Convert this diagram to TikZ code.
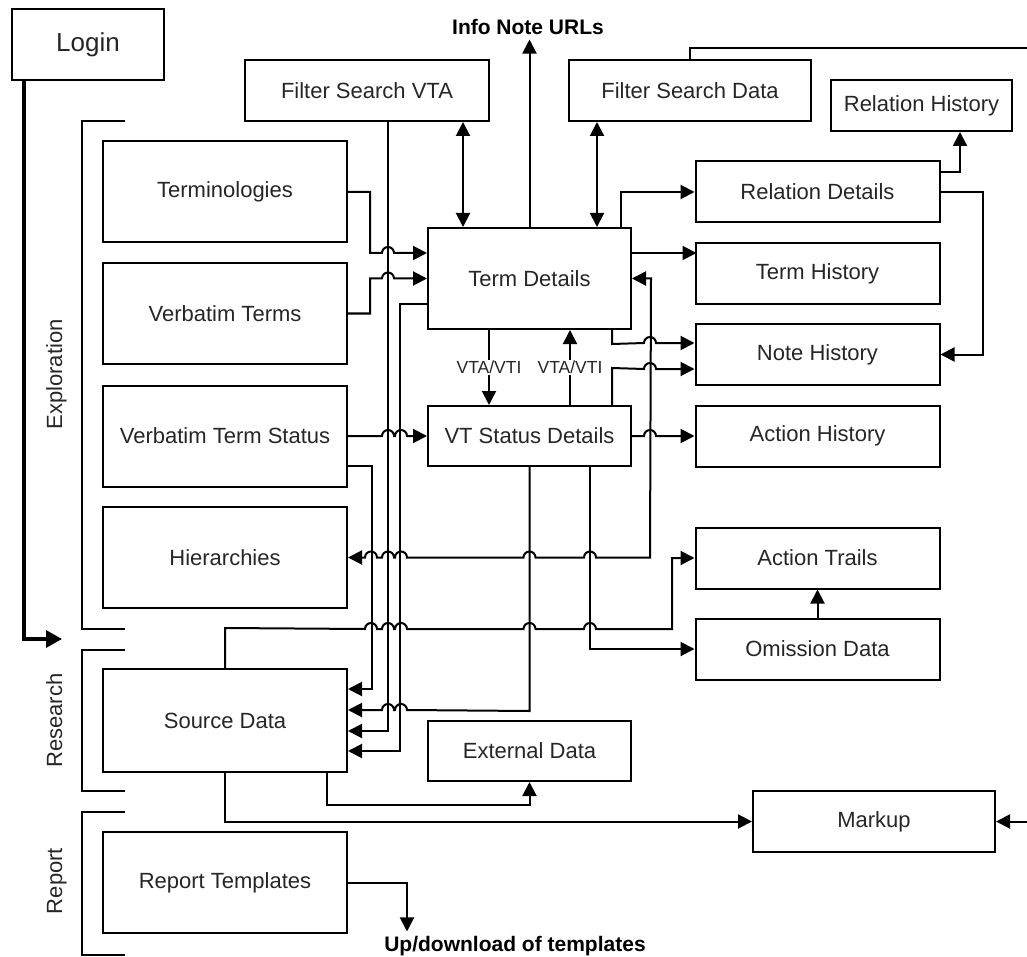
\documentclass[tikz,border=0pt]{standalone}
\usepackage{fontspec}
\setmainfont{Liberation Sans}
\usetikzlibrary{arrows.meta}

\newcommand{\hopr}[2]{-- ({#1-6},#2) arc[start angle=180,end angle=0,radius=6pt]}
\newcommand{\hopl}[2]{-- ({#1+6},#2) arc[start angle=0,end angle=180,radius=6pt]}

\begin{document}
\begin{tikzpicture}[x=1pt,y=-1pt,line width=2pt,>={Triangle[length=14pt,width=14pt]},
  box/.style={draw,text=black!85,inner sep=0pt,minimum width=244pt,minimum height=101pt,font=\fontsize{22}{26}\selectfont},
  rbox/.style={box,minimum height=61pt},
  lbl/.style={fill=white,text=black!85,inner sep=1.5pt,font=\fontsize{17.5}{20}\selectfont},
  note/.style={anchor=base,font=\fontsize{21}{24}\selectfont\bfseries},
  sec/.style={rotate=90,anchor=base,text=black!85,font=\fontsize{22}{26}\selectfont}]

\clip (0,0) rectangle (1027,957);

\node[box,minimum width=152pt,minimum height=71pt,font=\fontsize{26}{30}\selectfont] (login) at (88,44.5) {Login};
\node[rbox] (fsvta) at (367,90.5) {Filter Search VTA};
\node[rbox,minimum width=242pt] (fsdata) at (690,90.5) {Filter Search Data};
\node[box,minimum width=181pt,minimum height=51pt] (relhist) at (921.5,105.5) {Relation History};
\node[note] (info) at (528,35) {Info Note URLs};

\node[box] (termin) at (225,192) {Terminologies};
\node[box] (verbterms) at (225,313.5) {Verbatim Terms};
\node[box] (vtstatus) at (225,436) {Verbatim Term Status};
\node[box] (hier) at (225,557.5) {Hierarchies};
\node[box,minimum height=103pt] (source) at (225,720.5) {Source Data};
\node[box] (report) at (225,882.5) {Report Templates};

\node[box,minimum width=203pt] (termdet) at (529.5,278.5) {Term Details};
\node[rbox,minimum width=203pt,minimum height=60pt] (vtsdet) at (529.5,436) {VT Status Details};
\node[rbox,minimum width=203pt,minimum height=60pt] (extdata) at (529.5,751) {External Data};

\node[rbox] (reldet) at (817.5,192) {Relation Details};
\node[rbox] (termhist) at (817.5,273.5) {Term History};
\node[rbox] (notehist) at (817.5,354.5) {Note History};
\node[rbox] (actionhist) at (817.5,436) {Action History};
\node[rbox] (actiontr) at (817.5,558) {Action Trails};
\node[rbox] (omission) at (817.5,649) {Omission Data};
\node[rbox,minimum width=242pt] (markup) at (874,821.5) {Markup};
\node[note] (updown) at (515,951) {Up/download of templates};

\foreach \t/\b in {121/629,650/791,812/955}
  \draw (125,\t) -| (82,\b) -- (125,\b);
\node[sec] (explo) at (62,374.5) {Exploration};
\node[sec] (resea) at (62,720.5) {Research};
\node[sec] (repo) at (62,881) {Report};

\coordinate (secgap) at (62,639);
\coordinate (vtalink) at (463,0);
\coordinate (datalink) at (597,0);
\coordinate (vtadown) at (489,0);
\coordinate (vtaup) at (570,0);

\draw[-{Triangle[length=16pt,width=17pt]},line width=3.2pt] ([xshift=13pt]login.south west) |- (secgap);

\draw[->] (termdet.north) -- (termdet.north |- info.south);
\draw[<->] (vtalink |- fsvta.south) -- (vtalink |- termdet.north);
\draw[<->] (datalink |- fsdata.south) -- (datalink |- termdet.north);
\draw[->] (fsdata.north) -- ++(0,-11) -- ++(350,0) |- (markup.east);

\draw[->] ([yshift=20pt]reldet.east) -| ([xshift=38.5pt]relhist.south);
\draw[->] (reldet.east) -- ++(42,0) |- (notehist.east);
\draw[->] ([xshift=-11pt]termdet.north east) |- (reldet.west);
\draw[->] ([yshift=25.5pt]termdet.east) -- ++(64.5,0);
\draw[<->] (termdet.east) -- ++(19,0) -- (650,557.5) \hopl{590}{557.5} \hopl{529.5}{557.5}
  \hopl{401}{557.5} \hopl{388}{557.5} \hopl{371}{557.5} -- (hier.east);
\draw[->] ([xshift=-20pt]termdet.south east) -- ++(0,14) \hopr{650}{343} -- ([yshift=11.5pt]notehist.west);
\draw[->] ([xshift=-20pt]vtsdet.north east) -- ++(0,-37) \hopr{650}{369} -- ([yshift=-14.5pt]notehist.west);
\draw[->] (vtsdet.east) \hopr{650}{436} -- (actionhist.west);

\draw[->] (vtadown |- termdet.south) -- node[lbl] {VTA/VTI} (vtadown |- vtsdet.north);
\draw[->] (vtaup |- vtsdet.north) -- node[lbl] {VTA/VTI} (vtaup |- termdet.south);

\draw[->] (termin.east) -- ++(22,0) -- ++(0,61) \hopr{388}{253} -- ([yshift=25.5pt]termdet.west);
\draw[->] (verbterms.east) -- ++(22,0) -- ++(0,-35) \hopr{388}{278.5} -- (termdet.west);
\draw[->] (vtstatus.east) \hopr{388}{436} \hopr{401}{436} -- (vtsdet.west);

\draw[->] ([yshift=-30pt]vtstatus.east) -- ++(24,0) |- ([yshift=31.5pt]source.east);
\draw[->] ([xshift=21pt]fsvta.south) |- ([yshift=-10.5pt]source.east);
\draw[->] ([yshift=-25.5pt]termdet.west) -- ++(-27,0) |- ([yshift=-30.5pt]source.east);
\draw[->] (vtsdet.south) -- ++(0,244) \hopl{401}{710} \hopl{388}{710} -- ([yshift=10.5pt]source.east);
\draw[->] ([xshift=60.5pt]vtsdet.south) |- (omission.west);
\draw[->] (source.north) -- ++(0,-40) \hopr{371}{629} \hopr{388}{629} \hopr{401}{629}
  \hopr{529.5}{629} \hopr{590}{629} -- (672,629) |- (actiontr.west);
\draw[->] (omission) -- (actiontr);

\draw[->] ([xshift=102pt]source.south) -- ++(0,32) -| (extdata.south);
\draw[->] (source.south) |- (markup.west);
\draw[->] (report.east) -| ([xshift=-108pt]updown.north);

\end{tikzpicture}
\end{document}
